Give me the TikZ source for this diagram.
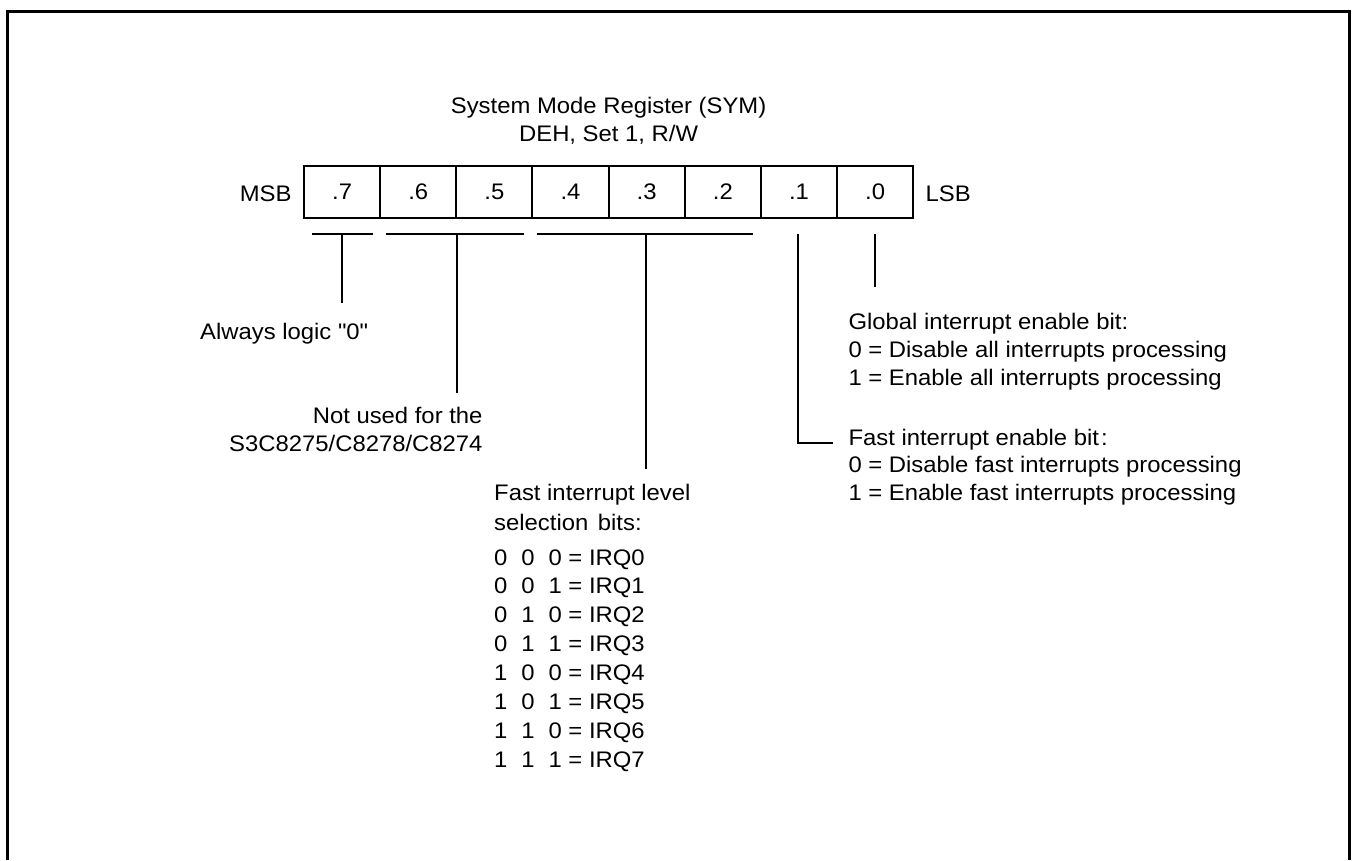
\documentclass[tikz,border=0pt]{standalone}
\usepackage{fontspec}
\newfontfamily\diagfont{Liberation Sans}[FakeStretch=1.06]
\begin{document}
\begin{tikzpicture}[x=1pt,y=-1pt,
  every node/.style={font=\diagfont\fontsize{22.5}{27}\selectfont, inner sep=0pt},
  cell/.style={draw, line width=2pt, minimum width=76.15pt, minimum height=52.6pt, anchor=center},
  txt/.style={anchor=base west},
  rtxt/.style={anchor=base east},
  ctxt/.style={anchor=base},
  lead/.style={line width=2pt},
  frame/.style={line width=3.3pt}]
\useasboundingbox (0,0) rectangle (1354,860);
% frame
\draw[frame] (7.5,860) -- (7.5,11.5) -- (1349.3,11.5) -- (1349.3,860);
% title
\node[ctxt] (t1) at (608.6,113.3) {System Mode Register (SYM)};
\node[ctxt] (t2) at (608.6,141.7) {DEH, Set 1, R/W};
% register cells
\foreach \i/\lab in {0/.7,1/.6,2/.5,3/.4,4/.3,5/.2,6/.1,7/.0} {
  \node[cell] (c\i) at ({304+76.15*(\i+0.5)},192) {\lab};
}
\node[rtxt] (msb) at (291.7,201.7) {MSB};
\node[txt] (lsb) at (925.5,201.7) {LSB};
% brackets
\coordinate (b1l) at (311.7,234); \coordinate (b1r) at (372.7,234);
\coordinate (b1m) at (342,234);   \coordinate (b1e) at (342,302.7);
\coordinate (b2l) at (385.7,234); \coordinate (b2r) at (524,234);
\coordinate (b2m) at (456.5,234); \coordinate (b2e) at (456.5,392.7);
\coordinate (b3l) at (537.3,234); \coordinate (b3r) at (753,234);
\coordinate (b3m) at (645.5,234); \coordinate (b3e) at (645.5,469.3);
\coordinate (b4s) at (797.5,234); \coordinate (b4c) at (797.5,443.3); \coordinate (b4e) at (833.3,443.3);
\coordinate (b5s) at (874.5,234); \coordinate (b5e) at (874.5,286.7);
\draw[lead] (b1l) -- (b1r);
\draw[lead] (b1m) -- (b1e);
\draw[lead] (b2l) -- (b2r);
\draw[lead] (b2m) -- (b2e);
\draw[lead] (b3l) -- (b3r);
\draw[lead] (b3m) -- (b3e);
\draw[lead] (b4s) -- (b4c) -- (b4e);
\draw[lead] (b5s) -- (b5e);
% labels
\node[txt] (always) at (200,339) {Always logic "0"};
\node[rtxt] (nu1) at (482.7,423.3) {Not used for the};
\node[rtxt] (nu2) at (482.7,451) {S3C8275/C8278/C8274};
\node[txt] (fl1) at (494,500.7) {Fast interrupt level};
\node[txt] (fl2) at (494,530.7) {selection\hspace{3pt} bits:};
\foreach \k/\a/\b/\c in {0/0/0/0,1/0/0/1,2/0/1/0,3/0/1/1,4/1/0/0,5/1/0/1,6/1/1/0,7/1/1/1} {
  \node[txt] (irq\k) at (494,{565+28.9*\k}) {\makebox[27.2pt][l]{\a}\makebox[27.2pt][l]{\b}\c{} = IRQ\k};
}
\node[txt] (g1) at (848.3,329.3) {Global interrupt enable bit:};
\node[txt] (g2) at (848.3,357.5) {0 = Disable all interrupts processing};
\node[txt] (g3) at (848.3,385) {1 = Enable all interrupts processing};
\node[txt] (f1) at (848.3,445) {Fast interrupt enable bit\hspace{2pt}:};
\node[txt] (f2) at (848.3,472.8) {0 = Disable fast interrupts processing};
\node[txt] (f3) at (848.3,500.3) {1 = Enable fast interrupts processing};
\end{tikzpicture}
\end{document}
